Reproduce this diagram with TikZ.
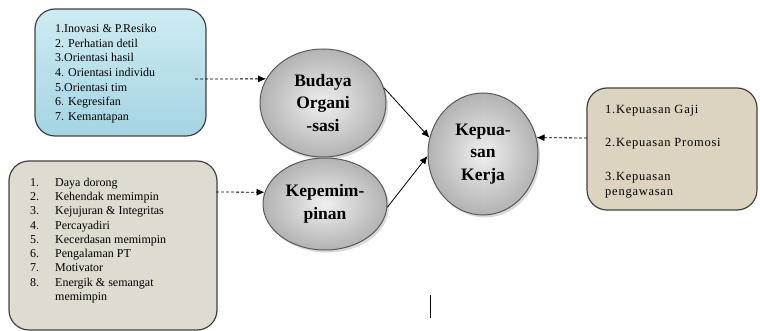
\documentclass[tikz,border=0pt]{standalone}
\usepackage{fontspec}
\setmainfont{Liberation Serif}
\usetikzlibrary{shapes.geometric,arrows.meta,shadows}

\definecolor{waterblue}{HTML}{B9E3ED}
\definecolor{waterdeep}{HTML}{A4D4E2}
\definecolor{sandpaper}{HTML}{E0DBD1}
\definecolor{canvasbeige}{HTML}{DCD3C0}
\definecolor{boxedge}{HTML}{424242}
\definecolor{ovaledge}{HTML}{5A5A5A}

\tikzset{
  listbox/.style={draw=boxedge, line width=1.2pt, rounded corners=20pt, inner sep=0pt},
  listtext/.style={anchor=base west, inner sep=0pt, font=\fontsize{12}{14.7}\selectfont},
  oval/.style={ellipse, draw=ovaledge, line width=1pt, inner sep=0pt,
    inner color=black!6, outer color=black!30,
    drop shadow={shadow xshift=2pt, shadow yshift=-2.5pt, opacity=0.25, fill=black!60},
    align=center, font=\bfseries\fontsize{17.5}{22.5}\selectfont},
  dasharrow/.style={dashed, dash pattern=on 3pt off 2pt, line width=0.8pt,
    -{Latex[length=8pt,width=7pt]}},
  solidarrow/.style={line width=0.8pt, -{Latex[length=8pt,width=7pt]}}
}

\begin{document}
\begin{tikzpicture}[x=1pt,y=-1pt]
  \useasboundingbox (0,0) rectangle (760,331);

  % indicator boxes
  \node[listbox, top color=waterblue!70!white, bottom color=waterdeep,
        minimum width=171pt, minimum height=127pt] (box1) at (120.5,72.5) {};
  \node[listbox, fill=sandpaper,
        minimum width=208pt, minimum height=169pt] (box2) at (113,245.5) {};
  \node[listbox, fill=canvasbeige,
        minimum width=170pt, minimum height=122pt] (box3) at (672,149) {};

  \node[listtext] (text1) at (55,32.5) {%
    \begin{tabular}[t]{@{}l@{}}
      1.Inovasi \& P.Resiko\\
      2. Perhatian detil\\
      3.Orientasi hasil\\
      4. Orientasi individu\\
      5.Orientasi tim\\
      6. Kegresifan\\
      7. Kemantapan
    \end{tabular}};

  \node[listtext, font=\fontsize{12}{14.25}\selectfont] (text2) at (30,186.5) {%
    \begin{tabular}[t]{@{}p{25pt}@{}l@{}}
      1. & Daya dorong\\
      2. & Kehendak memimpin\\
      3. & Kejujuran \& Integritas\\
      4. & Percayadiri\\
      5. & Kecerdasan memimpin\\
      6. & Pengalaman PT\\
      7. & Motivator\\
      8. & Energik \& semangat\\
         & memimpin
    \end{tabular}};

  \node[listtext, font=\addfontfeature{LetterSpace=6}\fontsize{12.5}{15}\selectfont]
    (text3) at (605,113.5) {%
    \begin{tabular}[t]{@{}l@{}}
      1.Kepuasan Gaji\\[18pt]
      2.Kepuasan Promosi\\[19pt]
      3.Kepuasan\\
      pengawasan
    \end{tabular}};

  % variables
  \node[oval, minimum width=126pt, minimum height=108pt] (budaya) at (323,103)
    {Budaya\\Organi\\-sasi};
  \node[oval, minimum width=124pt, minimum height=92pt] (kepem) at (325,204)
    {Kepemim-\\pinan};
  \node[oval, minimum width=110pt, minimum height=122pt] (kepuasan) at (483,154)
    {Kepua-\\san\\Kerja};

  % free ends of the dashed connectors
  \coordinate (c1) at (195,79);
  \coordinate (c2) at (216,192);
  \coordinate (c3) at (587,138);

  \draw[dasharrow] (c1) -- (budaya.157);
  \draw[dasharrow] (c2) -- (kepem.169);
  \draw[dasharrow] (c3) -- (kepuasan.17);

  \draw[solidarrow] (budaya.14) -- (kepuasan.163);
  \draw[solidarrow] (kepem.-3) -- (kepuasan.182);

  % short vertical stroke
  \coordinate (v1) at (430,295);
  \coordinate (v2) at (430,318);
  \draw[line width=1pt] (v1) -- (v2);
\end{tikzpicture}
\end{document}
